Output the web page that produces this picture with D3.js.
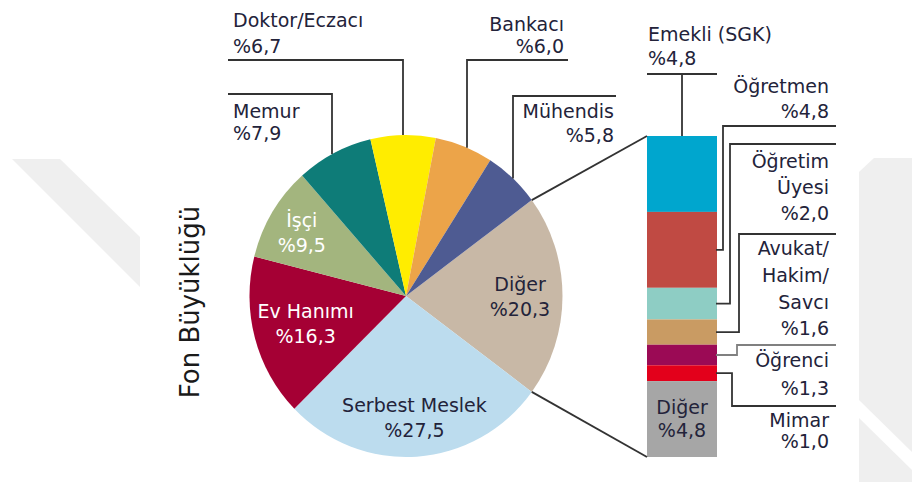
<!DOCTYPE html>
<html>
<head>
<meta charset="utf-8">
<title>Fon Büyüklüğü</title>
<script src="https://cdn.jsdelivr.net/npm/d3@7"></script>
<style>
	body, html { margin: 0; background: #fff; overflow: hidden; }
	text { font-family: "DejaVu Sans", Verdana, sans-serif; }
	.lbl { font-size: 19px; fill: #23233a; }
	.leader { fill: none; stroke: #333; stroke-width: 1.8; }
</style>
</head>
<body>
<div id="chart"></div>
<script>
	// pie slices, clockwise starting with the exploded "Diğer" slice
	var pieNames = ["Diğer", "Serbest Meslek", "Ev Hanımı", "İşçi", "Memur", "Doktor/Eczacı", "Bankacı", "Mühendis"];
	var pieValues = [20.3, 27.5, 16.3, 9.5, 7.9, 6.7, 6.0, 5.8];
	var pieColors = ["#c8b8a6", "#bcdcee", "#a50034", "#a3b57e", "#0e7c78", "#ffed00", "#eca449", "#4e5b92"];

	// breakdown of "Diğer" in the stacked bar, top to bottom
	var barNames = ["Emekli (SGK)", "Öğretmen", "Öğretim Üyesi", "Avukat/Hakim/Savcı", "Öğrenci", "Mimar", "Diğer"];
	var barValues = [4.8, 4.8, 2.0, 1.6, 1.3, 1.0, 4.8];
	var barColors = ["#00a6ce", "#c04a43", "#8ecdc4", "#c99b63", "#9b0a55", "#e3001b", "#a6a6a6"];

	var axisTitle = "Fon Büyüklüğü";

	var w = 912, h = 482;
	var cx = 406, cy = 296, r = 156.5, ky = 1.029;
	var fmt = function (v) { return "%" + v.toFixed(1).replace(".", ","); };

	var svg = d3.select("#chart").append("svg")
		.attr("width", w)
		.attr("height", h);

	// faint watermark shapes in the background
	var wm = svg.append("g").attr("fill", "#efefef");
	wm.append("polygon").attr("points", "12,159 60,159 140,237 140,287");
	wm.append("polygon").attr("points", "859,172 874,158 912,158 912,482 859,482");
	svg.append("polygon").attr("fill", "#fff").attr("points", "859,400 859,418 912,470 912,452");

	// pie
	var start = Math.PI / 2 - (pieValues[0] / 100) * Math.PI;
	var pie = d3.pie().sort(null).value(function (d) { return d; })
		.startAngle(start).endAngle(start + 2 * Math.PI);
	var arcs = pie(pieValues);
	var arc = d3.arc().innerRadius(0).outerRadius(r);

	svg.append("g")
		.attr("transform", "translate(" + cx + "," + cy + ") scale(1," + ky + ")")
		.selectAll("path").data(arcs)
		.enter().append("path")
		.attr("d", arc)
		.attr("fill", function (d, i) { return pieColors[i]; });

	function edge(a) {
		return [cx + r * Math.sin(a), cy - r * ky * Math.cos(a)];
	}
	function edgeY(x) {
		var dx = (x - cx) / r;
		return cy - r * ky * Math.sqrt(1 - dx * dx);
	}

	// stacked bar
	var barX = 647, barW = 70, barTop = 136, barBottom = 457;
	var y = d3.scaleLinear().domain([0, d3.sum(barValues)]).range([barTop, barBottom]);
	var cum = 0;
	var segs = barValues.map(function (v, i) {
		var s = { name: barNames[i], v: v, y0: y(cum), y1: y(cum + v), c: barColors[i] };
		cum += v;
		return s;
	});
	svg.append("g").selectAll("rect").data(segs)
		.enter().append("rect")
		.attr("x", barX)
		.attr("width", barW)
		.attr("y", function (d) { return d.y0; })
		.attr("height", function (d) { return d.y1 - d.y0; })
		.attr("fill", function (d) { return d.c; });

	var lines = svg.append("g");
	var line = d3.line();
	function leader(pts, col) {
		lines.append("path").attr("class", "leader").attr("d", line(pts))
			.style("stroke", col || null);
	}

	// connectors pie -> bar
	var p0 = edge(arcs[0].startAngle), p1 = edge(arcs[0].endAngle);
	leader([p0, [barX, barTop]]);
	leader([p1, [barX, barBottom]]);

	var txt = svg.append("g");
	function block(x, ys, strs, anchor, col) {
		strs.forEach(function (s, k) {
			txt.append("text").attr("class", "lbl")
				.attr("x", x).attr("y", ys[k])
				.attr("text-anchor", anchor)
				.style("fill", col || null)
				.text(s);
		});
	}

	// labels inside the pie
	var inside = {
		"Diğer": { rho: 114, col: null },
		"Serbest Meslek": { rho: 122, col: null },
		"Ev Hanımı": { rho: 104, col: "#fff" },
		"İşçi": { rho: 122, col: "#fff" }
	};
	arcs.forEach(function (d, i) {
		var cfg = inside[pieNames[i]];
		if (!cfg) return;
		var a = (d.startAngle + d.endAngle) / 2;
		var px = cx + cfg.rho * Math.sin(a), py = cy - cfg.rho * Math.cos(a);
		block(px, [py - 5.5, py + 19.5], [pieNames[i], fmt(pieValues[i])], "middle", cfg.col);
	});

	// labels outside the pie with elbow leaders
	var outside = {
		"Memur": { tx: 233, ys: [118, 140], anchor: "start", hy: 94, hx: 228, vx: 332 },
		"Doktor/Eczacı": { tx: 233, ys: [27, 53], anchor: "start", hy: 60, hx: 228, vx: 403 },
		"Bankacı": { tx: 564, ys: [31, 53], anchor: "end", hy: 60, hx: 568, vx: 467 },
		"Mühendis": { tx: 614, ys: [118, 142], anchor: "end", hy: 96, hx: 616, vx: 513 }
	};
	pieNames.forEach(function (n, i) {
		var o = outside[n];
		if (!o) return;
		leader([[o.hx, o.hy], [o.vx, o.hy], [o.vx, edgeY(o.vx)]]);
		block(o.tx, o.ys, [n, fmt(pieValues[i])], o.anchor);
	});

	// bar labels
	var barLab = {
		"Emekli (SGK)": { lines: ["Emekli (SGK)"], ys: [41, 65], tx: 648, anchor: "start" },
		"Öğretmen": { lines: ["Öğretmen"], ys: [93, 118], hy: 126, vx: 723 },
		"Öğretim Üyesi": { lines: ["Öğretim", "Üyesi"], ys: [168, 194, 220], hy: 144, vx: 730 },
		"Avukat/Hakim/Savcı": { lines: ["Avukat/", "Hakim/", "Savcı"], ys: [255, 282, 309, 335], hy: 234, vx: 739 },
		"Öğrenci": { lines: ["Öğrenci"], ys: [367, 395], hy: 345, vx: 737, col: "#808080" },
		"Mimar": { lines: ["Mimar"], ys: [427, 448], hy: 406, vx: 732 }
	};
	segs.forEach(function (s) {
		var o = barLab[s.name];
		if (!o) {
			// segment labelled inside the bar
			var m = (s.y0 + s.y1) / 2;
			block(barX + barW / 2, [m - 5, m + 18], [s.name, fmt(s.v)], "middle");
			return;
		}
		if (o.anchor === "start") {
			leader([[barX, 74], [barX + barW, 74]]);
			leader([[barX + barW / 2, 74], [barX + barW / 2, s.y0]]);
			block(o.tx, o.ys, o.lines.concat([fmt(s.v)]), "start");
			return;
		}
		var m2 = (s.y0 + s.y1) / 2;
		leader([[barX + barW - 1, m2], [o.vx, m2], [o.vx, o.hy], [836, o.hy]], o.col);
		block(829, o.ys, o.lines.concat([fmt(s.v)]), "end");
	});

	// vertical title
	svg.append("text")
		.attr("transform", "translate(199," + 302 + ") rotate(-90)")
		.attr("text-anchor", "middle")
		.style("font-size", "26px")
		.style("fill", "#1a1a1a")
		.text(axisTitle);
</script>
</body>
</html>
